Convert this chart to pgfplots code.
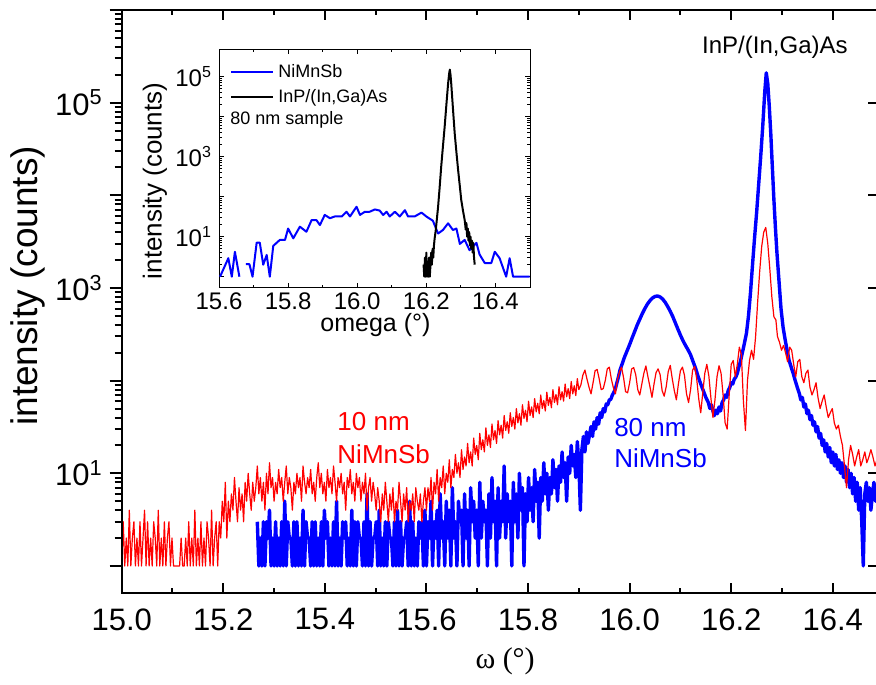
\documentclass[border=0pt]{standalone}
\usepackage{fontspec}
\setmainfont{Liberation Sans}
\newfontfamily\seriffont{Liberation Serif}
\usepackage{pgfplots}
\usepackage{pgfplotstable}
\pgfplotsset{compat=1.18}

\pgfplotstableread[row sep=\\]{x y\\
15.000 1\\15.003 3\\15.006 1\\15.009 2\\15.012 1\\15.015 4\\15.018 1\\15.021 2\\15.024 3\\15.027 1\\
15.030 2\\15.033 1\\15.036 3\\15.039 1\\15.042 2\\15.045 4\\15.048 1\\15.051 3\\15.054 1\\15.057 2\\
15.060 1\\15.063 3\\15.066 2\\15.069 1\\15.072 4\\15.075 1\\15.078 2\\15.081 1\\15.084 3\\15.087 1\\
15.090 2\\15.093 3\\15.096 1\\15.099 2\\15.102 1\\15.105 1\\15.108 1\\15.111 1\\15.114 1\\15.117 2\\
15.120 1\\15.123 1\\15.126 2\\15.129 1\\15.132 3\\15.135 1\\15.138 2\\15.141 1\\15.144 4\\15.147 1\\
15.150 2\\15.153 1\\15.156 3\\15.159 1\\15.162 2\\15.165 1\\15.168 3\\15.171 2\\15.174 1\\15.177 4\\
15.180 1\\15.183 2\\15.186 3\\15.189 1\\15.192 3\\15.195 2\\15.198 5\\15.201 3\\15.204 8\\15.207 2\\
15.210 5\\15.213 3\\15.216 6\\15.219 4\\15.222 9\\15.225 5\\15.228 3\\15.231 7\\15.234 4\\15.237 6\\
15.240 3\\15.243 8\\15.246 5\\15.249 10\\15.252 6\\15.255 4\\15.258 8\\15.261 5\\15.264 7\\15.267 12\\
15.270 6\\15.273 9\\15.276 5\\15.279 8\\15.282 4\\15.285 10\\15.288 6\\15.291 13\\15.294 7\\15.297 9\\
15.300 5\\15.303 8\\15.306 6\\15.309 11\\15.312 7\\15.315 9\\15.318 5\\15.321 8\\15.324 12\\15.327 6\\
15.330 9\\15.333 7\\15.336 4\\15.339 8\\15.342 6\\15.345 10\\15.348 7\\15.351 9\\15.354 5\\15.357 12\\
15.360 8\\15.363 6\\15.366 9\\15.369 7\\15.372 11\\15.375 6\\15.378 8\\15.381 5\\15.384 9\\15.387 13\\
15.390 7\\15.393 10\\15.396 6\\15.399 8\\15.402 5\\15.405 11\\15.408 7\\15.411 9\\15.414 6\\15.417 12\\
15.420 8\\15.423 5\\15.426 9\\15.429 7\\15.432 10\\15.435 6\\15.438 8\\15.441 4\\15.444 9\\15.447 7\\
15.450 11\\15.453 6\\15.456 8\\15.459 5\\15.462 10\\15.465 7\\15.468 9\\15.471 5\\15.474 8\\15.477 6\\
15.480 10\\15.483 4\\15.486 7\\15.489 9\\15.492 5\\15.495 8\\15.498 6\\15.501 4\\15.504 7\\15.507 5\\
15.510 3\\15.513 6\\15.516 4\\15.519 8\\15.522 5\\15.525 3\\15.528 6\\15.531 4\\15.534 7\\15.537 3\\
15.540 5\\15.543 4\\15.546 8\\15.549 5\\15.552 3\\15.555 6\\15.558 4\\15.561 7\\15.564 3\\15.567 5\\
15.570 4\\15.573 6\\15.576 3\\15.579 7\\15.582 5\\15.585 4\\15.588 6\\15.591 3\\15.594 5\\15.597 7\\
15.600 4\\15.603 7\\15.606 5\\15.609 9\\15.612 4\\15.615 8\\15.618 6\\15.621 11\\15.624 5\\15.627 9\\
15.630 7\\15.633 12\\15.636 6\\15.639 10\\15.642 8\\15.645 14\\15.648 7\\15.651 11\\15.654 9\\15.657 16\\
15.660 10\\15.663 13\\15.666 9\\15.669 18\\15.672 11\\15.675 15\\15.678 12\\15.681 21\\15.684 13\\15.687 17\\
15.690 12\\15.693 24\\15.696 16\\15.699 20\\15.702 14\\15.705 27\\15.708 18\\15.711 23\\15.714 17\\15.717 31\\
15.720 20\\15.723 26\\15.726 19\\15.729 34\\15.732 23\\15.735 29\\15.738 21\\15.741 37\\15.744 26\\15.747 33\\
15.750 24\\15.753 42\\15.756 29\\15.759 36\\15.762 27\\15.765 45\\15.768 32\\15.771 40\\15.774 30\\15.777 50\\
15.780 35\\15.783 44\\15.786 33\\15.789 55\\15.792 39\\15.795 48\\15.798 36\\15.801 60\\15.804 42\\15.807 52\\
15.810 40\\15.813 64\\15.816 46\\15.819 57\\15.822 44\\15.825 70\\15.828 50\\15.831 61\\15.834 47\\15.837 75\\
15.840 54\\15.843 66\\15.846 51\\15.849 80\\15.852 58\\15.855 71\\15.858 55\\15.861 86\\15.864 62\\15.867 76\\
15.870 60\\15.873 92\\15.876 67\\15.879 82\\15.882 64\\15.885 98\\15.888 72\\15.891 88\\15.894 69\\15.897 105\\
15.900 80\\15.904 90\\15.908 115\\15.912 130\\15.916 104\\15.920 85\\15.924 72\\15.928 95\\15.932 128\\15.936 132\\
15.940 105\\15.944 80\\15.948 82\\15.952 100\\15.956 134\\15.960 140\\15.964 104\\15.968 84\\15.972 72\\15.976 102\\
15.980 125\\15.984 140\\15.988 108\\15.992 76\\15.996 74\\16.000 95\\16.004 134\\16.008 138\\16.012 116\\16.016 80\\
16.020 70\\16.024 92\\16.028 120\\16.032 144\\16.036 110\\16.040 86\\16.044 66\\16.048 92\\16.052 122\\16.056 134\\
16.060 116\\16.064 78\\16.068 68\\16.072 86\\16.076 125\\16.080 146\\16.084 104\\16.088 78\\16.092 62\\16.096 92\\
16.100 128\\16.104 140\\16.108 114\\16.112 72\\16.116 58\\16.120 80\\16.124 130\\16.128 142\\16.132 105\\16.136 64\\
16.140 45\\16.144 74\\16.148 120\\16.152 150\\16.156 112\\16.160 65\\16.164 40\\16.168 62\\16.172 110\\16.176 145\\
16.180 120\\16.184 70\\16.188 35\\16.192 30\\16.196 70\\16.200 150\\16.204 165\\16.208 110\\16.212 150\\16.216 230\\
16.220 190\\16.224 60\\16.228 29\\16.232 100\\16.236 165\\16.240 213\\16.244 170\\16.248 300\\16.252 700\\16.256 1500\\
16.260 2800\\16.264 4000\\16.268 4500\\16.272 3000\\16.276 1600\\16.280 800\\16.284 490\\16.288 450\\16.291 300\\16.295 260\\
16.299 213\\16.303 240\\16.307 200\\16.311 160\\16.315 230\\16.319 213\\16.323 150\\16.327 110\\16.331 160\\16.335 170\\
16.339 110\\16.343 95\\16.347 120\\16.351 130\\16.355 85\\16.359 70\\16.363 80\\16.367 95\\16.371 65\\16.375 50\\
16.379 60\\16.383 70\\16.387 52\\16.391 40\\16.395 45\\16.399 50\\16.403 35\\16.407 30\\16.411 33\\16.415 25\\
16.419 20\\16.423 12\\16.427 7\\16.431 14\\16.435 20\\16.439 16\\16.443 12\\16.447 15\\16.451 18\\16.455 12\\
16.459 14\\16.463 17\\16.467 13\\16.471 15\\16.475 18\\16.479 15\\16.483 12\\16.487 14\\
}\redmain

\pgfplotstableread[row sep=\\]{x y\\
15.267 3\\15.270 1\\15.273 2\\15.276 1\\15.279 3\\15.282 1\\15.285 3\\15.288 2\\15.291 4\\15.294 1\\
15.297 2\\15.300 1\\15.303 3\\15.306 1\\15.309 2\\15.312 1\\15.315 3\\15.318 1\\15.321 5\\15.324 1\\
15.327 3\\15.330 2\\15.333 2\\15.336 1\\15.339 3\\15.342 1\\15.345 3\\15.348 1\\15.351 2\\15.354 1\\
15.357 4\\15.360 1\\15.363 3\\15.366 2\\15.369 2\\15.372 1\\15.375 3\\15.378 1\\15.381 3\\15.384 1\\
15.387 2\\15.390 1\\15.393 3\\15.396 1\\15.399 4\\15.402 2\\15.405 3\\15.408 1\\15.411 2\\15.414 1\\
15.417 3\\15.420 1\\15.423 5\\15.426 1\\15.429 2\\15.432 1\\15.435 3\\15.438 2\\15.441 3\\15.444 1\\
15.447 2\\15.450 1\\15.453 4\\15.456 1\\15.459 3\\15.462 1\\15.465 3\\15.468 2\\15.471 2\\15.474 1\\
15.477 3\\15.480 1\\15.483 6\\15.486 1\\15.489 3\\15.492 1\\15.495 2\\15.498 2\\15.501 3\\15.504 1\\
15.507 4\\15.510 1\\15.513 2\\15.516 1\\15.519 3\\15.522 1\\15.525 3\\15.528 2\\15.531 2\\15.534 1\\
15.537 3\\15.540 1\\15.543 4\\15.546 1\\15.549 3\\15.552 1\\15.555 2\\15.558 2\\15.561 3\\15.564 1\\
15.567 5\\15.570 1\\15.573 3\\15.576 1\\15.579 2\\15.582 1\\15.585 3\\15.588 2\\15.591 3\\15.594 1\\
15.597 4\\15.600 1\\15.603 3\\15.606 2\\15.609 5\\15.612 1\\15.615 3\\15.618 2\\15.621 4\\15.624 1\\
15.627 6\\15.630 2\\15.633 3\\15.636 1\\15.639 5\\15.642 2\\15.645 4\\15.648 1\\15.651 7\\15.654 2\\
15.657 3\\15.660 1\\15.663 5\\15.666 3\\15.669 4\\15.672 1\\15.675 6\\15.678 2\\15.681 4\\15.684 1\\
15.687 7\\15.690 3\\15.693 5\\15.696 2\\15.699 4\\15.702 1\\15.705 8\\15.708 2\\15.711 5\\15.714 3\\
15.717 4\\15.720 1\\15.723 6\\15.726 2\\15.729 9\\15.732 3\\15.735 5\\15.738 1\\15.741 7\\15.744 2\\
15.747 5\\15.750 3\\15.753 12\\15.756 2\\15.759 6\\15.762 3\\15.765 5\\15.768 1\\15.771 8\\15.774 3\\
15.777 6\\15.780 2\\15.783 10\\15.786 4\\15.789 7\\15.792 1\\15.795 6\\15.798 3\\15.801 9\\15.804 4\\
15.807 7\\15.810 3\\15.813 11\\15.816 5\\15.819 8\\15.822 2\\15.825 9\\15.828 5\\15.831 13\\15.834 6\\
15.837 10\\15.840 4\\15.843 9\\15.846 6\\15.849 14\\15.852 7\\15.855 11\\15.858 5\\15.861 12\\15.864 8\\
15.867 17\\15.870 9\\15.873 13\\15.876 5\\15.879 15\\15.882 10\\15.885 20\\15.888 12\\15.891 16\\15.894 9\\
15.897 22\\15.900 13\\15.903 4\\15.906 18\\15.909 25\\15.912 17\\15.915 28\\15.918 21\\15.921 26\\15.924 32\\
15.927 25\\15.930 36\\15.933 30\\15.936 40\\15.939 34\\15.942 45\\15.945 40\\15.948 50\\15.951 46\\15.954 56\\
15.957 55\\15.960 62\\15.963 63\\15.966 70\\15.969 75\\15.972 82\\15.975 95\\15.978 110\\15.981 130\\15.985 150\\
15.990 180\\15.995 210\\16.000 245\\16.005 290\\16.010 340\\16.015 400\\16.020 460\\16.025 530\\16.030 600\\16.035 670\\
16.040 730\\16.045 780\\16.050 810\\16.055 820\\16.060 800\\16.065 760\\16.070 700\\16.075 630\\16.080 560\\16.085 490\\
16.090 420\\16.095 360\\16.100 310\\16.105 270\\16.110 240\\16.115 215\\16.120 190\\16.125 160\\16.130 135\\16.135 110\\
16.140 92\\16.145 78\\16.150 66\\16.155 58\\16.158 50\\16.161 55\\16.164 47\\16.167 42\\16.170 48\\16.173 44\\
16.176 52\\16.179 47\\16.182 58\\16.185 62\\16.188 70\\16.191 66\\16.194 78\\16.197 84\\16.200 95\\16.203 92\\
16.206 104\\16.209 109\\16.212 120\\16.215 140\\16.218 160\\16.221 190\\16.224 225\\16.227 270\\16.230 325\\16.234 500\\
16.238 900\\16.242 1800\\16.246 3500\\16.250 6500\\16.254 13000\\16.258 26000\\16.262 55000\\16.266 130000\\16.269 210000\\16.272 160000\\
16.275 90000\\16.278 45000\\16.281 20000\\16.284 9000\\16.287 4500\\16.290 2400\\16.294 1200\\16.298 600\\16.302 380\\16.306 280\\
16.310 213\\16.314 165\\16.318 140\\16.322 120\\16.326 100\\16.330 85\\16.334 73\\16.337 62\\16.340 66\\16.343 52\\
16.346 56\\16.349 44\\16.352 48\\16.355 38\\16.358 42\\16.361 33\\16.364 36\\16.367 28\\16.370 32\\16.373 24\\
16.376 27\\16.379 20\\16.382 23\\16.385 17\\16.388 21\\16.391 15\\16.394 19\\16.397 13\\16.400 17\\16.403 12\\
16.406 16\\16.409 11\\16.412 14\\16.415 10\\16.418 13\\16.421 9\\16.424 12\\16.427 8\\16.430 11\\16.433 7\\
16.436 10\\16.439 6\\16.442 9\\16.445 5\\16.448 8\\16.451 4\\16.454 7\\16.457 3\\16.460 1\\16.463 6\\
16.466 8\\16.469 5\\16.472 7\\16.475 4\\16.478 6\\16.481 8\\16.484 5\\16.487 7\\
}\bluemain

\pgfplotstableread[row sep=\\]{x y\\
15.603 1\\15.627 2.9\\15.637 1\\15.646 4.2\\15.659 1\\15.668 0\\15.678 2.05\\15.688 2.05\\15.697 1\\15.709 7.1\\
15.718 7.1\\15.728 2\\15.738 3.5\\15.747 1\\15.757 5.9\\15.776 8.3\\15.791 8.3\\15.800 16\\15.815 9.1\\15.834 17.8\\
15.853 13.3\\15.868 26\\15.882 26\\15.892 19.5\\15.906 35\\15.921 29\\15.935 32\\15.955 32\\15.969 42\\15.979 32\\
15.998 56\\16.008 35\\16.022 42\\16.036 42\\16.051 48\\16.065 45\\16.075 35\\16.085 42\\16.094 32\\16.109 42\\
16.123 32\\16.138 46\\16.147 32\\16.166 32\\16.186 40\\16.200 32\\16.219 25\\16.234 12\\16.248 14.7\\16.263 21.6\\
16.277 14.7\\16.287 16\\16.297 6.6\\16.311 8.3\\16.325 4.6\\16.345 7\\16.354 3.6\\16.369 2.2\\16.388 2.2\\16.398 4.2\\
16.412 2.9\\16.431 1\\16.441 2.9\\16.451 1\\16.499 1\\
}\blueinset

\pgfplotstableread[row sep=\\]{x y\\
16.192 2\\16.194 1\\16.196 3\\16.198 1\\16.200 4\\16.202 1\\16.204 2\\16.206 1\\16.208 3\\16.210 1\\
16.212 2\\16.214 4\\16.216 2\\16.218 5\\16.220 3\\16.222 6\\16.224 9\\16.227 14\\16.230 25\\16.234 56\\
16.238 150\\16.243 560\\16.248 1800\\16.253 5600\\16.258 20000\\16.263 68000\\16.266 120000\\16.268 150000\\16.270 110000\\16.272 68000\\
16.277 16000\\16.282 3900\\16.287 1300\\16.292 460\\16.297 180\\16.301 83\\16.306 45\\16.311 26\\16.314 15\\16.316 22\\
16.318 10\\16.320 16\\16.322 8\\16.324 13\\16.326 6\\16.328 10\\16.330 5\\16.332 8\\16.334 4\\16.336 7\\
16.338 3\\16.340 2\\
}\blackinset

\begin{document}
\begin{tikzpicture}
\pgfplotsset{/pgf/number format/assume math mode=true}
% main axis: frame, x ticks (inside), right y ticks
\begin{axis}[name=main, at={(0,0)}, anchor=south west, scale only axis,
  width=378.15pt, height=291.65pt,
  xmin=15, xmax=16.489, ymode=log, ymin=0.507, ymax=1e6,
  axis line style={line width=1pt},
  tick align=inside, xtick pos=both, ytick pos=right,
  xtick={15,15.2,...,16.45}, minor xtick={15.1,15.3,...,16.35},
  ytickten={0,...,6}, yticklabels={},
  minor y tick style={draw=none},
  major tick length=5pt, minor tick length=2.5pt,
  every tick/.style={black, line width=1pt},
  xticklabel style={font=\fontsize{15.5}{15.5}\selectfont,
    /pgf/number format/fixed, /pgf/number format/fixed zerofill,
    /pgf/number format/precision=1},
  xticklabel shift=4pt,
  xlabel={\seriffont ω (°)},
  xlabel style={font=\fontsize{15}{15}\selectfont, at={(axis description cs:0.507,-0.116)}, anchor=center},
  unbounded coords=jump,
]
\addplot[blue, line width=1.7pt, line join=round] table[x=x,y=y] {\bluemain};
\addplot[red, line width=0.6pt, line join=round] table[x=x,y=y] {\redmain};
\node[anchor=center, font=\fontsize{12}{12}\selectfont] at (axis cs:16.286,3.97e5) {InP/(In,Ga)As};
\node[anchor=west, align=left, text=red, font=\fontsize{13}{16.5}\selectfont, inner sep=0pt] at (axis cs:15.424,24.3) {10 nm\\NiMnSb};
\node[anchor=west, align=left, text=blue, font=\fontsize{13}{15.5}\selectfont, inner sep=0pt] at (axis cs:15.969,21.2) {80 nm\\NiMnSb};
\end{axis}
% left y axis: outward ticks + labels
\begin{axis}[at={(0,0)}, anchor=south west, scale only axis,
  width=378.15pt, height=291.65pt,
  xmin=15, xmax=16.489, ymode=log, ymin=0.507, ymax=1e6,
  hide x axis, axis y line*=left,
  y axis line style={-, line width=1pt},
  tick align=outside,
  ytickten={0,...,6},
  yticklabels={,10\textsuperscript{1},,10\textsuperscript{3},,10\textsuperscript{5},},
  major tick length=6pt, minor tick length=3.5pt,
  every tick/.style={black, line width=1pt},
  yticklabel style={font=\fontsize{15.5}{15.5}\selectfont},
  ylabel={intensity (counts)},
  ylabel style={font=\fontsize{18.5}{18.5}\selectfont, at={(axis description cs:-0.124,0.527)}, anchor=center},
]
\end{axis}
% inset
\begin{axis}[at={(48.65pt,152.8pt)}, anchor=south west, scale only axis,
  width=155.5pt, height=119.2pt,
  axis background/.style={fill=white},
  xmin=15.6, xmax=16.5, ymode=log, ymin=0.531, ymax=4.84e5,
  axis line style={line width=0.5pt},
  tick align=inside, xtick pos=both, ytick pos=both,
  xtick={15.6,15.8,...,16.45}, minor xtick={15.7,15.9,...,16.55},
  ytickten={0,...,5},
  yticklabels={,10\textsuperscript{1},,10\textsuperscript{3},,10\textsuperscript{5}},
  major tick length=2.5pt, minor tick length=1.5pt,
  every tick/.style={black, line width=0.5pt},
  tick label style={font=\fontsize{12}{12}\selectfont},
  xticklabel style={/pgf/number format/fixed, /pgf/number format/fixed zerofill,
    /pgf/number format/precision=1},
  xticklabel shift=-1pt,
  xlabel={omega (°)}, ylabel={intensity (counts)},
  xlabel style={font=\fontsize{12.5}{12.5}\selectfont, at={(axis description cs:0.503,-0.158)}, anchor=center},
  ylabel style={font=\fontsize{13}{13}\selectfont, at={(axis description cs:-0.206,0.448)}, anchor=center},
  unbounded coords=jump,
  legend style={at={(axis description cs:0.035,0.955)}, anchor=north west, draw=none, fill=none,
    inner sep=0pt, font=\fontsize{9}{10}\selectfont, row sep=0.5pt},
  legend cell align=left,
  legend image code/.code={\draw[#1] (0pt,0pt) -- (21pt,0pt);},
]
\addplot[blue, line width=1pt, line join=round] table[x=x,y=y] {\blueinset};
\addlegendentry{NiMnSb}
\addplot[black, line width=1pt, line join=round] table[x=x,y=y] {\blackinset};
\addlegendentry{InP/(In,Ga)As}
\node[anchor=west, font=\fontsize{9}{10}\selectfont, inner sep=0pt] at (axis description cs:0.035,0.703) {80 nm sample};
\end{axis}
\pgfresetboundingbox
\path[use as bounding box] (-60.85pt,-45.35pt) rectangle (377.15pt,296.65pt);
\end{tikzpicture}
\end{document}
